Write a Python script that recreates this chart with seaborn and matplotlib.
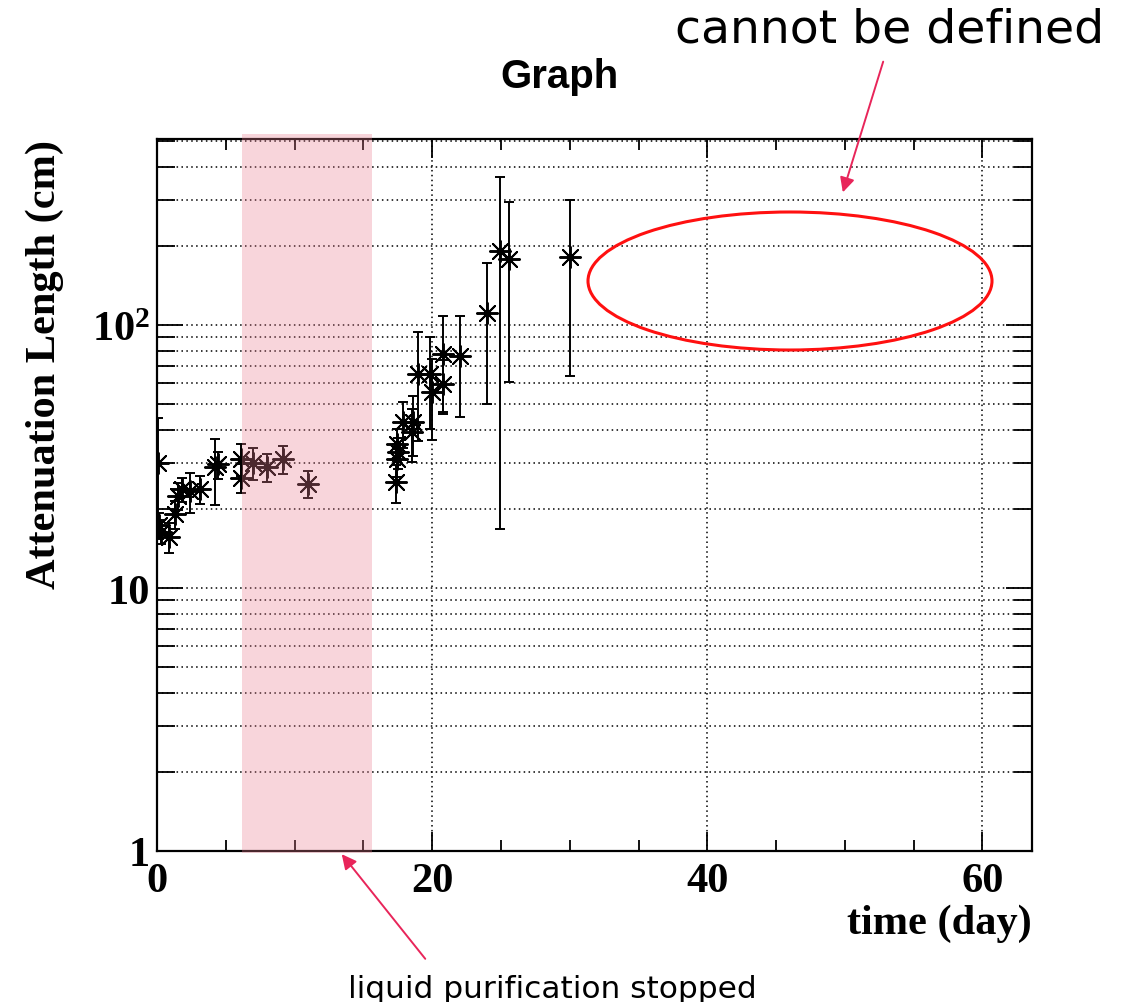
import numpy as np
import pandas as pd
import matplotlib
matplotlib.use("Agg")
import matplotlib.pyplot as plt
import matplotlib.ticker as mticker
from matplotlib.patches import Ellipse, FancyArrowPatch
import seaborn as sns

# ---------------- data ----------------
time_day = [0.07, 0.15, 0.30, 0.90, 1.28, 1.53, 1.84, 2.38, 3.15, 4.20, 4.40,
            6.09, 6.09, 7.00, 8.02, 9.19, 11.00,
            17.38, 17.43, 17.55, 17.43, 17.90, 18.60, 18.50,
            19.00, 19.85, 19.98, 20.78, 20.78, 22.04,
            23.98, 24.95, 25.55, 30.04]
atten_cm = [30.0, 17.3, 16.4, 15.6, 19.1, 22.4, 23.8, 23.4, 23.8, 28.8, 29.5,
            30.9, 26.2, 30.0, 28.8, 30.9, 24.9,
            25.2, 30.9, 32.8, 35.3, 42.7, 42.7, 39.1,
            65.1, 65.1, 55.5, 77.6, 59.7, 76.4,
            111.1, 191.7, 178.0, 180.8]
atten_err = [14.3, 2.0, 1.7, 2.0, 2.3, 2.6, 2.5, 4.1, 2.9, 8.2, 3.5,
             4.3, 3.3, 4.2, 3.5, 3.8, 2.9,
             4.1, 4.5, 4.5, 5.0, 8.5, 11.0, 9.0,
             29.0, 25.0, 19.0, 31.0, 14.0, 31.7,
             61.0, 175.0, 117.0, 117.0]

band_days = [6.18, 15.64]
x_major = [0, 20, 40, 60]
y_major = [1, 10, 100]
y_major_labels = ["1", "10", r"$\mathbf{10^{2}}$"]

title_text = "Graph"
xlabel_text = "time (day)"
ylabel_text = "Attenuation Length (cm)"
note_top = "cannot be defined"
note_bottom = "liquid purification stopped"

df = pd.DataFrame({"time": time_day, "att": atten_cm, "err": atten_err})

# ---------------- style ----------------
sns.set_theme(style="ticks")
plt.rcParams["font.family"] = ["Liberation Serif", "DejaVu Serif"]
plt.rcParams["mathtext.fontset"] = "custom"
plt.rcParams["mathtext.rm"] = "Liberation Serif"
plt.rcParams["mathtext.bf"] = "Liberation Serif:bold"
for key in ["text.color", "axes.labelcolor", "xtick.color", "ytick.color",
            "xtick.labelcolor", "ytick.labelcolor", "axes.edgecolor"]:
    plt.rcParams[key] = "black"

W, H = 1137, 1003
fig = plt.figure(figsize=(W / 100, H / 100), dpi=100)
fig.patch.set_facecolor("white")
ax = fig.add_axes([157 / W, 1 - 852 / H, (1032 - 157) / W, (852 - 140) / H])
ax.set_facecolor("white")

# error bars + asterisk markers
ax.errorbar(df["time"], df["att"], yerr=df["err"], fmt="none", ecolor="black",
            elinewidth=1.4, capsize=3.5, capthick=1.4, zorder=3)
sns.scatterplot(data=df, x="time", y="att", marker=(8, 2, 0), s=230,
                color="black", linewidth=1.4, ax=ax, zorder=4, legend=False)

ax.set_yscale("log")
ax.set_xlim(0, 63.6)
ax.set_ylim(1, 510)

# ticks
ax.xaxis.set_major_locator(mticker.FixedLocator(x_major))
ax.xaxis.set_minor_locator(mticker.MultipleLocator(5))
ax.xaxis.set_major_formatter(mticker.FixedFormatter([str(v) for v in x_major]))
ax.yaxis.set_major_locator(mticker.FixedLocator(y_major))
ax.yaxis.set_major_formatter(mticker.FixedFormatter(y_major_labels))
ax.yaxis.set_minor_locator(mticker.LogLocator(base=10, subs=np.arange(2, 10)))
ax.yaxis.set_minor_formatter(mticker.NullFormatter())

ax.tick_params(which="both", direction="in", top=True, right=True,
               color="black", width=1.3, labelcolor="black")
ax.tick_params(axis="x", which="major", length=14, pad=8)
ax.tick_params(axis="x", which="minor", length=8)
ax.tick_params(axis="y", which="major", length=19, pad=5)
ax.tick_params(axis="y", which="minor", length=13)
for lab in ax.get_xticklabels() + ax.get_yticklabels():
    lab.set_fontsize(30.5)
    lab.set_fontweight("bold")

for sp in ax.spines.values():
    sp.set_visible(True)
    sp.set_color("black")
    sp.set_linewidth(1.6)

# grids
ax.grid(axis="x", which="major", linestyle=(0, (1, 2.2)), color="black", linewidth=1.1)
ax.grid(axis="y", which="both", linestyle=(0, (1, 2.2)), color="black", linewidth=1.1)
ax.set_axisbelow(True)

# labels
ax.set_xlabel(xlabel_text, fontsize=30.5, fontweight="bold", loc="right", color="black")
ax.xaxis.set_label_coords(1.0, (852 - 905) / 712)
ax.set_ylabel(ylabel_text, fontsize=30.5, fontweight="bold", loc="top", color="black")
ax.yaxis.set_label_coords((64 - 157) / 875, 1.0)

fig.text(560 / W, 1 - 77 / H, title_text, fontsize=29, fontweight="bold",
         family=["Liberation Sans", "DejaVu Sans"], ha="center", va="center",
         color="black")

# pink band drawn on top (semi-transparent)
ax.axvspan(band_days[0], band_days[1], ymin=-0.003, ymax=1.007,
           color="#ea7d91", alpha=0.32, lw=0, zorder=10, clip_on=False)

# annotations
arrow_col = "#e8255a"
fig.add_artist(Ellipse((790 / W, 1 - 282 / H), 404 / W, 138 / H,
                       transform=fig.transFigure, fill=False,
                       edgecolor="#ff1010", linewidth=2.2))
fig.add_artist(FancyArrowPatch((884 / W, 1 - 60 / H), (842 / W, 1 - 196 / H),
                               transform=fig.transFigure, arrowstyle="-|>",
                               mutation_scale=22, color=arrow_col, lw=1.4))
fig.add_artist(FancyArrowPatch((427 / W, 1 - 962 / H), (340 / W, 1 - 853 / H),
                               transform=fig.transFigure, arrowstyle="-|>",
                               mutation_scale=22, color=arrow_col, lw=1.4))
fig.text(890 / W, 1 - 30 / H, note_top, fontsize=34,
         family=["DejaVu Sans"], ha="center", va="center", color="black")
fig.text(552 / W, 1 - 998 / H, note_bottom, fontsize=22.5,
         family=["DejaVu Sans"], ha="center", va="baseline", color="black")

fig.savefig("out.png", dpi=100, facecolor="white")
